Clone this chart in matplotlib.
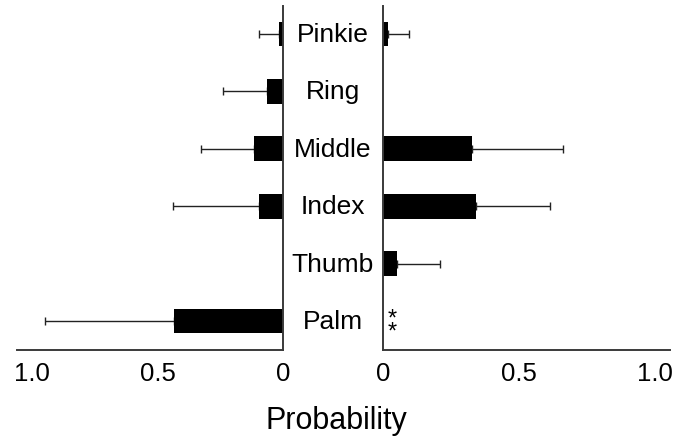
import matplotlib.pyplot as plt
from matplotlib.transforms import blended_transform_factory

plt.rcParams['font.family'] = ['Liberation Sans', 'DejaVu Sans']

# bottom to top
fingers = ['Palm', 'Thumb', 'Index', 'Middle', 'Ring', 'Pinkie']
left_mean = [0.433, 0.0, 0.096, 0.116, 0.065, 0.017]
left_err = [0.515, 0.0, 0.341, 0.212, 0.173, 0.079]
right_mean = [0.0, 0.053, 0.343, 0.327, 0.0, 0.017]
right_err = [0.0, 0.157, 0.271, 0.333, 0.0, 0.079]
sig_marks = {'Palm': '*\n*'}

ticks = [0, 0.5, 1.0]
tick_labels = ['0', '0.5', '1.0']

fig = plt.figure(figsize=(6.79, 4.39), dpi=100)
ax_l = fig.add_axes([17 / 679, 0.201, 266 / 679, 0.782])
ax_r = fig.add_axes([383 / 679, 0.201, 287 / 679, 0.782])

spine_col = '#3a3a3a'
ypos = list(range(len(fingers)))


def draw_side(ax, means, errs):
    for y, m, e in zip(ypos, means, errs):
        if m <= 0:
            continue
        ax.barh(y, m, height=0.43, color='black', zorder=2)
        ax.errorbar(m, y, xerr=[[0], [e]], fmt='none', ecolor='#222222',
                    elinewidth=1.0, capsize=3, capthick=1.0, zorder=1)
    ax.set_ylim(-0.5, 5.48)
    ax.set_yticks([])
    ax.set_xticks(ticks)
    ax.set_xticklabels(tick_labels, fontsize=18.5)
    ax.tick_params(axis='x', length=0, pad=8)
    ax.spines['top'].set_visible(False)
    for s in ['bottom', 'left', 'right']:
        ax.spines[s].set_color(spine_col)
        ax.spines[s].set_linewidth(1.4)


draw_side(ax_l, left_mean, left_err)
ax_l.set_xlim(1.06, 0)
ax_l.spines['left'].set_visible(False)
ax_l.yaxis.set_visible(False)

draw_side(ax_r, right_mean, right_err)
ax_r.set_xlim(0, 1.055)
ax_r.spines['right'].set_visible(False)

# finger names between the two panels
trans = blended_transform_factory(fig.transFigure, ax_r.transData)
for y, name in zip(ypos, fingers):
    ax_r.text(333 / 679, y, name, transform=trans, ha='center', va='center',
              fontsize=19, clip_on=False)
    if name in sig_marks:
        ax_r.text(0.033, y - 0.07, sig_marks[name], ha='center', va='center',
                  fontsize=17, linespacing=0.45)

fig.text(336 / 679, 1 - 421 / 439, 'Probability', ha='center', va='center',
         fontsize=22)

fig.savefig('out.png', dpi=100)
plt.close()
